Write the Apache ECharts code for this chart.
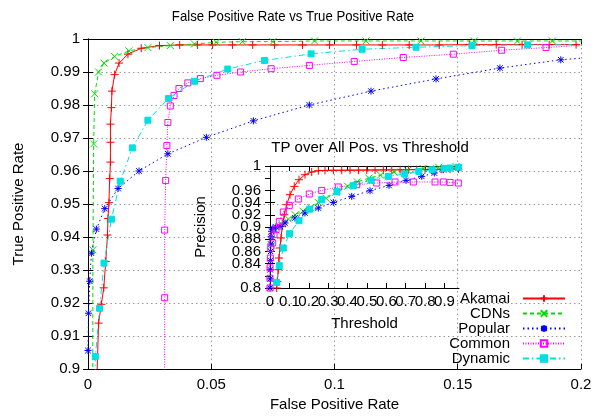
<!DOCTYPE html>
<html>
<head>
<meta charset="utf-8">
<script src="https://cdn.jsdelivr.net/npm/echarts@6/dist/echarts.min.js"></script>
<style>
  html, body { margin: 0; padding: 0; background: #fff; }
  #chart { width: 595px; height: 417px; }
</style>
</head>
<body>
<div id="chart"></div>
<script>
// ROC curves: [false positive rate, true positive rate]
const akamaiRoc = [[0.0033,0.89],[0.0043,0.9139],[0.0054,0.9196],[0.0064,0.9246],[0.0072,0.9326],[0.0079,0.9406],[0.0081,0.9456],[0.0085,0.9504],[0.0088,0.9577],[0.0091,0.9627],[0.0091,0.9687],[0.0091,0.9742],[0.0095,0.9792],[0.0097,0.9842],[0.0108,0.9892],[0.0126,0.9927],[0.0162,0.9954],[0.0216,0.9972],[0.029,0.998],[0.0372,0.9982],[0.0444,0.9982],[0.0505,0.9982],[0.0586,0.9982],[0.0668,0.9982],[0.0757,0.9982],[0.087,0.9982],[0.098,0.9982],[0.1089,0.9982],[0.1194,0.9982],[0.1303,0.9982],[0.1425,0.9982],[0.1547,0.9983],[0.1656,0.9983],[0.1761,0.9983],[0.1871,0.9983],[0.198,0.9983]];
const cdnsRoc = [[0.0019,0.89],[0.002,0.9361],[0.0023,0.9682],[0.0027,0.9834],[0.0043,0.99],[0.0065,0.9927],[0.0108,0.9947],[0.0166,0.9964],[0.0243,0.9974],[0.0334,0.998],[0.0432,0.9985],[0.052,0.999],[0.0626,0.9992],[0.075,0.9992],[0.0919,0.9994],[0.1128,0.9994],[0.1351,0.9994],[0.1567,0.9994],[0.1742,0.9994],[0.1884,0.9994],[0.212,0.9994]];
const popularRoc = [[0,0.9056],[0.0002,0.9169],[0.0007,0.9266],[0.0014,0.9351],[0.0034,0.9424],[0.0068,0.9486],[0.0122,0.9547],[0.0207,0.96],[0.0324,0.9652],[0.048,0.9702],[0.0671,0.9752],[0.0898,0.98],[0.1148,0.9842],[0.1412,0.9879],[0.1671,0.9912],[0.1918,0.9937],[0.215,0.9951]];
const commonRoc = [[0.0311,0.88],[0.0311,0.9216],[0.0311,0.9421],[0.0315,0.9571],[0.032,0.9677],[0.0324,0.9747],[0.0334,0.9797],[0.0349,0.9829],[0.0369,0.985],[0.0405,0.9867],[0.0456,0.988],[0.0523,0.989],[0.0619,0.99],[0.0743,0.991],[0.0898,0.992],[0.108,0.9932],[0.1279,0.9944],[0.1482,0.9954],[0.1678,0.9966],[0.1858,0.9974],[0.205,0.9984]];
const dynamicRoc = [[0.0025,0.89],[0.003,0.9038],[0.0047,0.9184],[0.0065,0.9321],[0.0095,0.9454],[0.0131,0.9569],[0.018,0.967],[0.0243,0.9754],[0.0327,0.982],[0.0432,0.9872],[0.0567,0.9909],[0.0716,0.9935],[0.0905,0.9955],[0.1112,0.9969],[0.1331,0.9975],[0.1558,0.998],[0.1783,0.9982],[0.205,0.9983]];

// Precision against detection threshold: [threshold, precision]
const akamaiPrec = [[0.034,0.79],[0.0346,0.8],[0.0377,0.8108],[0.0428,0.83],[0.0464,0.8492],[0.0516,0.8656],[0.0568,0.882],[0.0635,0.901],[0.0738,0.9202],[0.0862,0.9366],[0.1032,0.953],[0.1254,0.9666],[0.1496,0.9775],[0.1806,0.9857],[0.2152,0.9902],[0.2492,0.9923],[0.2838,0.9928],[0.327,0.993],[0.37,0.993],[0.413,0.9932],[0.456,0.9932],[0.499,0.9934],[0.542,0.9934],[0.585,0.9936],[0.628,0.9936],[0.671,0.9938],[0.714,0.994],[0.757,0.994],[0.8,0.9942],[0.843,0.9944],[0.886,0.9946],[0.929,0.9948],[0.972,0.995]];
const cdnsPrec = [[0.01,0.87],[0.03,0.895],[0.06,0.905],[0.095,0.913],[0.13,0.92],[0.17,0.926],[0.21,0.932],[0.25,0.94],[0.29,0.947],[0.34,0.957],[0.4,0.967],[0.45,0.974],[0.51,0.98],[0.57,0.985],[0.64,0.99],[0.71,0.993],[0.79,0.996],[0.87,0.998],[0.96,0.999]];
const popularPrec = [[0,0.79],[0,0.8],[0.001,0.815],[0.001,0.83],[0.002,0.845],[0.003,0.86],[0.004,0.872],[0.005,0.884],[0.008,0.893],[0.015,0.898],[0.03,0.9],[0.0516,0.901],[0.0774,0.9066],[0.129,0.9148],[0.1806,0.923],[0.2492,0.9311],[0.3266,0.9403],[0.4216,0.9502],[0.516,0.9595],[0.614,0.9682],[0.7018,0.9764],[0.7828,0.983],[0.8478,0.9885],[0.8942,0.9939],[0.9716,0.9967]];
const commonPrec = [[0,0.79],[0,0.8],[0,0.816],[0,0.833],[0.002,0.849],[0.004,0.865],[0.0139,0.8738],[0.0206,0.8874],[0.031,0.8956],[0.048,0.9092],[0.0686,0.9246],[0.0996,0.9354],[0.146,0.9459],[0.2028,0.9541],[0.2668,0.96],[0.3524,0.9656],[0.4474,0.9693],[0.5506,0.9721],[0.645,0.9738],[0.7394,0.9738],[0.8514,0.9738],[0.8942,0.9738],[0.9288,0.9731],[0.9716,0.9721]];
const dynamicPrec = [[0.03,0.79],[0.0346,0.8092],[0.048,0.8366],[0.0686,0.8656],[0.1006,0.889],[0.1496,0.9103],[0.2038,0.9292],[0.2668,0.9452],[0.3457,0.9579],[0.4298,0.9677],[0.5212,0.9767],[0.6104,0.983],[0.695,0.987],[0.7678,0.9911],[0.837,0.9939],[0.8978,0.9961],[0.9288,0.9967],[0.9716,0.998]];

const seriesNames = ['Akamai', 'CDNs', 'Popular', 'Common', 'Dynamic'];
const rocSets = [akamaiRoc, cdnsRoc, popularRoc, commonRoc, dynamicRoc];
const precSets = [akamaiPrec, cdnsPrec, popularPrec, commonPrec, dynamicPrec];

// Axis ranges and tick steps
const rocX = { min: 0, max: 0.2, step: 0.05 };
const rocY = { min: 0.9, max: 1, step: 0.01 };
const precX = { min: 0, max: 0.975, step: 0.1 };
const precY = { min: 0.8, max: 1, step: 0.02 };

const FONT = '"Liberation Sans", Arial, Helvetica, sans-serif';
const PLUS = 'path://M5,0L5,10M0,5L10,5';
const CROSS = 'path://M0,0L10,10M10,0L0,10';
const STAR = 'path://M5,0L5,10M0,5L10,5M1,1L9,9M9,1L1,9';

const looks = {
  Akamai:  { color: '#ff0000', dash: 'solid',        symbol: PLUS,   size: 8, fill: '#ff0000' },
  CDNs:    { color: '#00dd00', dash: [4, 3],         symbol: CROSS,  size: 7, fill: '#00dd00' },
  Popular: { color: '#0000ff', dash: [1.5, 3],       symbol: STAR,   size: 7, fill: '#0000ff' },
  Common:  { color: '#ff00ff', dash: [1, 1.5],       symbol: 'rect', size: 6, fill: 'rgba(255,255,255,0)' },
  Dynamic: { color: '#00e0e0', dash: [6, 3, 1.5, 3], symbol: 'rect', size: 6, fill: '#00e0e0' }
};

const fmt = v => String(Number(v.toFixed(3)));

function makeSeries(name, data, axisIdx) {
  const s = looks[name];
  return {
    type: 'line', name, data,
    xAxisIndex: axisIdx, yAxisIndex: axisIdx,
    color: s.color,
    symbol: s.symbol, symbolSize: s.size,
    lineStyle: { color: s.color, width: 1, type: s.dash },
    itemStyle: { color: s.fill, borderColor: s.color, borderWidth: 1 },
    clip: true, animation: false, silent: true,
    emphasis: { disabled: true }
  };
}

function valueAxis(range, gridIndex, position, opts) {
  return Object.assign({
    type: 'value', gridIndex, position,
    min: range.min, max: range.max, interval: range.step,
    axisLine: { show: true, lineStyle: { color: '#000', width: 1 } },
    axisTick: { show: true, inside: true, length: 5, lineStyle: { color: '#000' } },
    axisLabel: { show: false },
    splitLine: { show: false }
  }, opts);
}

const labelStyle = { fontFamily: FONT, fontSize: 15, color: '#000' };
const gridLine = { show: true, lineStyle: { color: '#999', width: 1, type: [1.5, 3] } };

const option = {
  backgroundColor: '#fff',
  animation: false,
  title: [
    { text: 'TP over All Pos. vs Threshold', left: 365, top: 135, textAlign: 'center',
      textStyle: { fontFamily: FONT, fontSize: 15, fontWeight: 'normal', color: '#000' } }
  ],
  // main heading, set in a condensed width
  graphic: [{
    type: 'text', x: 293, y: 17, scaleX: 0.88, silent: true,
    style: { text: 'False Positive Rate vs True Positive Rate', font: '15px "Liberation Sans", Arial, sans-serif',
             fill: '#000', align: 'center', verticalAlign: 'middle' }
  }],
  grid: [
    { left: 88, top: 39, right: 14, bottom: 45, containLabel: false },
    { left: 270, top: 166, width: 189, height: 122, containLabel: false }
  ],
  xAxis: [
    valueAxis(rocX, 0, 'bottom', {
      axisLabel: Object.assign({ show: true, margin: 8, formatter: fmt }, labelStyle),
      splitLine: gridLine,
      name: 'False Positive Rate', nameLocation: 'middle', nameGap: 28, nameTextStyle: labelStyle
    }),
    valueAxis(precX, 1, 'bottom', {
      axisLabel: Object.assign({ show: true, margin: 6, formatter: fmt, interval: 0, hideOverlap: false, showMinLabel: true, showMaxLabel: false }, labelStyle),
      name: 'Threshold', nameLocation: 'middle', nameGap: 28, nameTextStyle: labelStyle
    }),
    valueAxis(rocX, 0, 'top'),
    valueAxis(precX, 1, 'top')
  ],
  yAxis: [
    valueAxis(rocY, 0, 'left', {
      axisLabel: Object.assign({ show: true, margin: 8, formatter: fmt }, labelStyle),
      splitLine: gridLine,
      name: 'True Positive Rate', nameLocation: 'middle', nameGap: 62, nameTextStyle: labelStyle
    }),
    valueAxis(precY, 1, 'left', {
      axisLabel: Object.assign({ show: true, margin: 9, formatter: fmt, interval: 0, hideOverlap: false, showMinLabel: true, showMaxLabel: true }, labelStyle, { lineHeight: 10 }),
      name: 'Precision', nameLocation: 'middle', nameGap: 62, nameTextStyle: labelStyle
    }),
    valueAxis(rocY, 0, 'right'),
    valueAxis(precY, 1, 'right')
  ],
  legend: {
    data: seriesNames,
    orient: 'vertical', right: 24, top: 286,
    align: 'right',
    itemWidth: 42, itemHeight: 8, itemGap: 0,
    selectedMode: false,
    textStyle: { fontFamily: FONT, fontSize: 15, color: '#000', lineHeight: 15, padding: [0, 8, 0, 0] }
  },
  series: [
    ...seriesNames.map((n, i) => makeSeries(n, rocSets[i], 0)),
    ...seriesNames.map((n, i) => makeSeries(n, precSets[i], 1))
  ]
};

const chart = echarts.init(document.getElementById('chart'), null, { renderer: 'canvas' });
chart.setOption(option);
</script>
</body>
</html>
